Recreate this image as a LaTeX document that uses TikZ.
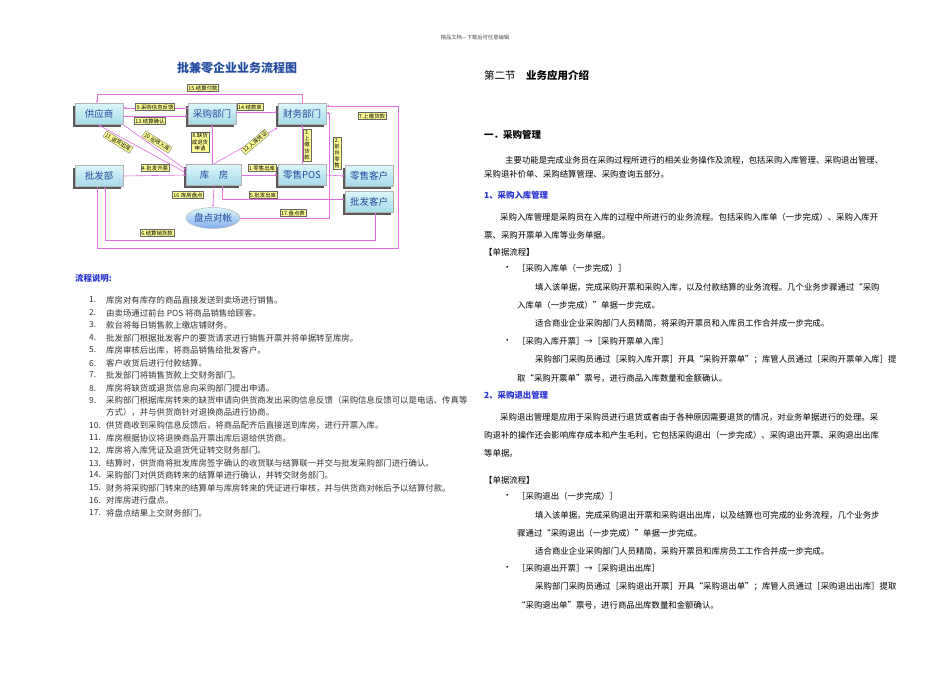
\documentclass[tikz,border=0pt]{standalone}
\usepackage{fontspec}
\setmainfont{Noto Sans CJK SC}
\usetikzlibrary{shapes.geometric,arrows.meta}
\definecolor{linec}{RGB}{225,110,225}
\definecolor{boxtop}{RGB}{220,246,250}
\definecolor{boxbot}{RGB}{165,218,232}
\definecolor{boxtxt}{RGB}{35,75,160}
\definecolor{headblue}{RGB}{40,50,210}
\definecolor{lblfill}{RGB}{255,255,150}
\tikzset{
  unit/.style={draw=gray!60, top color=boxtop, bottom color=boxbot, minimum width=48pt, minimum height=21pt, inner sep=0pt,
    text=boxtxt, font=\fontsize{9.5}{10}\selectfont,
    preaction={fill=black!65, transform canvas={shift={(-2.5pt,-2.5pt)}}}},
  oval/.style={ellipse, draw=gray!60, top color=boxtop, bottom color=boxbot!80!blue, minimum width=50pt, minimum height=21pt, inner sep=0pt, text=boxtxt, font=\fontsize{9.5}{10}\selectfont},
  lbl/.style={draw=black!60, line width=0.3pt, fill=lblfill, font=\fontsize{5.4}{6.3}\selectfont, inner sep=1pt, align=center},
  fl/.style={draw=linec, line width=0.6pt, -{Latex[length=2.6pt,width=2.2pt]}},
  body/.style={anchor=west, inner sep=0pt, font=\fontsize{8.4}{9}\selectfont},
  lst/.style={anchor=west, inner sep=0pt, font=\fontsize{8.4}{9}\selectfont},
}
\begin{document}
\begin{tikzpicture}[x=1pt,y=-1pt]
\useasboundingbox (0,0) rectangle (950,672);
\fill[white] (0,0) rectangle (950,672);
\node[font=\fontsize{5.3}{6}\selectfont, text=black!70] (hdr) at (475,37) {精品文档---下载后可任意编辑};
% ---- diagram
\node[font=\bfseries\fontsize{12}{13}\selectfont, text=boxtxt] (title) at (237,68) {批兼零企业业务流程图};
\node[unit] (gys) at (99,114) {供应商};
\node[unit] (cg) at (212,114) {采购部门};
\node[unit] (cw) at (302,114) {财务部门};
\node[unit] (pfb) at (99,176) {批发部};
\node[unit, minimum width=55pt] (kf) at (214,175) {库\quad 房};
\node[unit] (pos) at (302,175) {零售POS};
\node[unit] (lk) at (369,176) {零售客户};
\node[unit] (pk) at (369,202) {批发客户};
\node[oval] (pd) at (213,218) {盘点对帐};
\coordinate (c15) at (97,94);
\coordinate (c5) at (222,199);
\coordinate (c6a) at (375,240);
\coordinate (c6b) at (105,240);
\coordinate (c7a) at (97,248);
\coordinate (c7b) at (398,248);
\coordinate (c7c) at (398,106);
\coordinate (c17a) at (329,218);
\coordinate (c17b) at (329,113);
\draw[fl] (cw.north) |- (c15) -- (c15 |- gys.north);
\draw[fl] ([yshift=6pt]cg.west) -- ([yshift=6pt]gys.east);
\draw[fl] ([yshift=-2pt]gys.east) -- ([yshift=-2pt]cg.west);
\draw[fl] ([yshift=2pt]cg.east) -- ([yshift=2pt]cw.west);
\draw[fl] (kf.north -| cg.south) -- (cg.south);
\draw[fl] (gys.south east) -- ([yshift=5pt]kf.west);
\draw[fl] ([yshift=2pt]kf.west) -- ([xshift=-1pt]gys.south);
\draw[fl] ([xshift=-1pt]kf.north) -- ([yshift=-3pt]cw.south west);
\draw[fl] (pos.north) -- (cw.south);
\draw[fl] (pos.east) -- (lk.west);
\draw[fl] (kf.east) -- (pos.west);
\draw[fl] (pfb.east) -- (kf.west);
\draw[fl] (c5 |- kf.south) -- (c5) -- (c5 -| pk.west);
\draw[fl] (kf.south) -- (pd.north);
\draw[fl] (pd.east) -- (c17a) -- (c17b) -- (c17b -| cw.east);
\draw[fl] (c6a |- pk.south) -- (c6a) -- (c6b) -- (c6b |- pfb.south);
\draw[-, draw=linec, line width=0.6pt] (c7a |- pfb.south) -- (c7a) -- (c7b) -- (c7c);
\draw[fl] (c7c) -- (c7c -| cw.east);
\node[lbl] (l15) at (203,88) {15.结算付款};
\node[lbl] (l9) at (155,107) {9.采购信息反馈};
\node[lbl] (l13) at (150,121) {13.结算确认};
\node[lbl] (l14) at (250,107) {14.结款单};
\node[lbl] (l8) at (200,142) {8.缺货\\或退货\\申请};
\node[lbl, rotate=-32] (l11) at (118,142) {11.退货出库};
\node[lbl, rotate=-32] (l10) at (157,142) {10.验收入库};
\node[lbl, rotate=40] (l12) at (255,142) {12.入库凭证};
\node[lbl] (l3) at (307,145) {3.\\上\\缴\\货\\款};
\node[lbl] (l2) at (337,153) {2.\\前\\台\\零\\售};
\node[lbl] (l7) at (372,116) {7.上缴货款};
\node[lbl] (l4) at (155,168) {4.批发开票};
\node[lbl] (l1) at (262,168) {1.零售出库};
\node[lbl] (l5) at (263,195) {5.批发出库};
\node[lbl] (l16) at (188,195) {16.库房盘点};
\node[lbl] (l17) at (293,213) {17.盘点表};
\node[lbl] (l6) at (157,233) {6.结算销货款};
% ---- left list
\node[lst, text=headblue, font=\bfseries\itshape\fontsize{8.4}{9}\selectfont] (fl) at (75,278) {流程说明:};
\foreach \n/\y/\t in {
1/300/库房对有库存的商品直接发送到卖场进行销售。,
2/313/由卖场通过前台 POS 将商品销售给顾客。,
3/325/款台将每日销售款上缴店铺财务。,
4/338/批发部门根据批发客户的要货请求进行销售开票并将单据转至库房。,
5/350/库房审核后出库，将商品销售给批发客户。,
6/363/客户收货后进行付款结算。,
7/375/批发部门将销售货款上交财务部门。,
8/388/库房将缺货或退货信息向采购部门提出申请。,
9/400/采购部门根据库房转来的缺货申请向供货商发出采购信息反馈（采购信息反馈可以是电话、传真等,
10/425/供货商收到采购信息反馈后，将商品配齐后直接送到库房，进行开票入库。,
11/438/库房根据协议将退换商品开票出库后退给供货商。,
12/450/库房将入库凭证及退货凭证转交财务部门。,
13/463/结算时，供货商将批发库房签字确认的收货联与结算联一并交与批发采购部门进行确认。,
14/475/采购部门对供货商转来的结算单进行确认，并转交财务部门。,
15/488/财务将采购部门转来的结算单与库房转来的凭证进行审核，并与供货商对帐后予以结算付款。,
16/500/对库房进行盘点。,
17/513/将盘点结果上交财务部门。}{
  \node[lst, text=black!80] (n\n) at (89,\y) {\n.};
  \node[lst, text=black!80] (t\n) at (106,\y) {\t};
}
\node[lst, text=black!80] (t9b) at (106,412) {方式），并与供货商针对退换商品进行协商。};
% ---- right column
\node[body, font=\fontsize{10.5}{11}\selectfont] (h2) at (484,75) {第二节\quad\textbf{业务应用介绍}};
\node[body, font=\bfseries\fontsize{9.5}{10}\selectfont] (h3) at (484,135) {一．采购管理};
\node[body] (p1) at (505,160) {主要功能是完成业务员在采购过程所进行的相关业务操作及流程，包括采购入库管理、采购退出管理、};
\node[body] (p2) at (484,174) {采购退补价单、采购结算管理、采购查询五部分。};
\node[body, text=headblue, font=\bfseries\itshape\fontsize{8.4}{9}\selectfont] (h4) at (484,195) {1、采购入库管理};
\node[body] (p3) at (500,217) {采购入库管理是采购员在入库的过程中所进行的业务流程。包括采购入库单（一步完成）、采购入库开};
\node[body] (p4) at (484,235) {票、采购开票单入库等业务单据。};
\node[body] (p5) at (484,252) {【单据流程】};
\node[body] (b1) at (503,268) {•};
\node[body] (p6) at (517,268) {［采购入库单（一步完成）］};
\node[body] (p7) at (535,287) {填入该单据，完成采购开票和采购入库，以及付款结算的业务流程。几个业务步骤通过“采购};
\node[body] (p8) at (517,305) {入库单（一步完成）”单据一步完成。};
\node[body] (p9) at (535,323) {适合商业企业采购部门人员精简，将采购开票员和入库员工作合并成一步完成。};
\node[body] (b2) at (503,341) {•};
\node[body] (p10) at (517,341) {［采购入库开票］→［采购开票单入库］};
\node[body] (p11) at (535,360) {采购部门采购员通过［采购入库开票］开具“采购开票单”；库管人员通过［采购开票单入库］提};
\node[body] (p12) at (517,378) {取“采购开票单”票号，进行商品入库数量和金额确认。};
\node[body, text=headblue, font=\bfseries\itshape\fontsize{8.4}{9}\selectfont] (h5) at (484,395) {2、采购退出管理};
\node[body] (q1) at (500,417) {采购退出管理是应用于采购员进行退货或者由于各种原因需要退货的情况，对业务单据进行的处理。采};
\node[body] (q2) at (484,435) {购退补的操作还会影响库存成本和产生毛利，它包括采购退出（一步完成）、采购退出开票、采购退出出库};
\node[body] (q3) at (484,453) {等单据。};
\node[body] (q4) at (484,480) {【单据流程】};
\node[body] (b3) at (503,496) {•};
\node[body] (q5) at (517,496) {［采购退出（一步完成）］};
\node[body] (q6) at (535,515) {填入该单据，完成采购退出开票和采购退出出库，以及结算也可完成的业务流程，几个业务步};
\node[body] (q7) at (517,533) {骤通过“采购退出（一步完成）”单据一步完成。};
\node[body] (q8) at (535,551) {适合商业企业采购部门人员精简，采购开票员和库房员工工作合并成一步完成。};
\node[body] (b4) at (503,568) {•};
\node[body] (q9) at (517,568) {［采购退出开票］→［采购退出出库］};
\node[body] (q10) at (535,587) {采购部门采购员通过［采购退出开票］开具“采购退出单”；库管人员通过［采购退出出库］提取};
\node[body] (q11) at (517,605) {“采购退出单”票号，进行商品出库数量和金额确认。};
\end{tikzpicture}
\end{document}
